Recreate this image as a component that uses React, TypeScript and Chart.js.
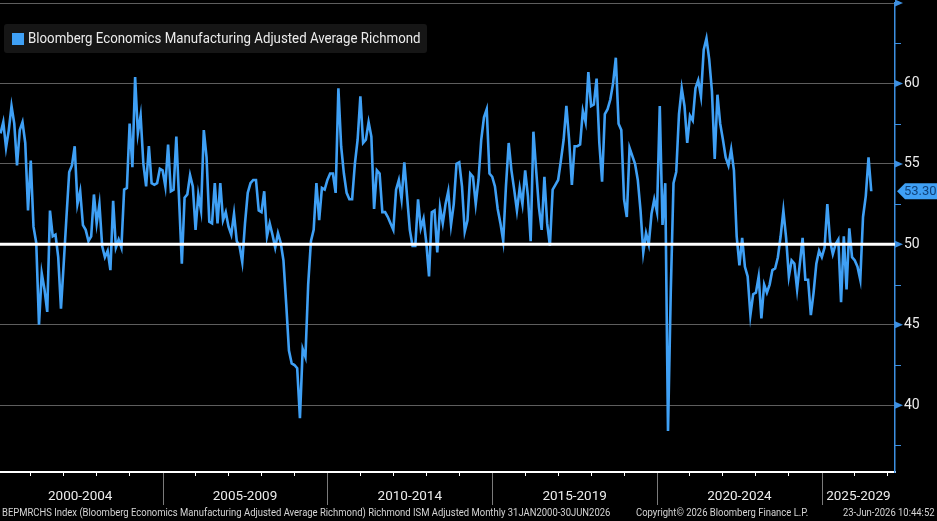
import React, { useEffect, useRef } from 'react';
import { Chart, registerables } from 'chart.js';

Chart.register(...registerables);

// ---- Data (monthly, Jan 2000 .. Jun 2026) ----
const v2000_2004 = [
  56.9, 57.6, 56.0, 57.1, 58.6, 57.5, 54.9, 57.1, 57.6, 56.3,
  52.1, 55.2, 51.1, 50.1, 45.0, 48.2, 47.2, 45.8, 52.1, 50.5,
  50.6, 49.2, 46.0, 48.8, 51.7, 54.5, 54.9, 56.1, 52.5, 53.3,
  51.2, 50.9, 50.2, 50.5, 53.1, 51.3, 52.5, 49.9, 49.2, 49.6,
  48.4, 52.7, 49.8, 50.3, 49.8, 53.4, 53.5, 57.5, 54.8, 60.4,
  56.9, 58.0, 55.0, 53.6, 56.1, 53.8, 53.7, 53.8, 54.7, 54.6,
];
const v2005_2009 = [
  53.6, 56.2, 53.3, 53.4, 56.7, 52.8, 48.8, 52.9, 53.1, 54.3,
  53.6, 50.9, 53.1, 52.1, 57.1, 55.4, 51.4, 51.3, 53.8, 51.3,
  53.8, 51.5, 52.0, 51.1, 50.6, 51.9, 50.2, 49.9, 48.9, 51.3,
  53.2, 53.8, 54.0, 54.0, 52.1, 52.0, 53.3, 50.5, 51.3, 50.6,
  49.8, 50.7, 50.1, 49.0, 46.3, 43.4, 42.6, 42.5, 42.3, 39.2,
  43.5, 43.0, 47.5, 50.2, 50.9, 53.8, 51.5, 53.5, 53.4, 54.0,
];
const v2010_2014 = [
  54.4, 54.4, 53.2, 59.7, 56.1, 54.4, 53.2, 52.8, 52.8, 55.0,
  56.5, 59.2, 56.3, 56.5, 57.6, 56.7, 52.2, 54.6, 54.4, 52.0,
  52.0, 51.7, 51.3, 50.9, 53.4, 54.0, 52.8, 55.1, 53.0, 50.9,
  49.9, 49.9, 52.8, 51.0, 51.6, 50.1, 48.0, 52.0, 52.1, 49.5,
  52.3, 51.3, 52.5, 53.3, 51.2, 52.5, 55.0, 55.1, 53.6, 50.8,
  51.5, 54.4, 54.2, 52.5, 54.0, 56.5, 57.9, 58.4, 54.4, 54.2,
];
const v2015_2019 = [
  53.6, 52.2, 51.3, 50.2, 53.6, 56.3, 54.6, 53.4, 52.1, 53.5,
  52.5, 54.6, 53.0, 50.2, 57.0, 54.6, 52.3, 50.9, 54.2, 51.3,
  49.9, 53.4, 53.7, 54.0, 55.2, 56.5, 58.6, 56.5, 53.7, 56.1,
  56.1, 56.2, 58.3, 57.6, 60.7, 58.6, 58.7, 60.3, 56.3, 53.9,
  58.1, 58.4, 59.0, 60.0, 61.6, 57.5, 57.1, 52.8, 51.7, 56.0,
  55.5, 55.0, 54.0, 52.1, 49.5, 50.7, 50.0, 51.9, 52.8, 52.0,
];
const v2020_2024 = [
  58.6, 51.2, 53.8, 38.4, 47.0, 53.8, 54.5, 58.1, 59.7, 58.6,
  56.3, 58.0, 57.7, 59.7, 60.2, 59.2, 62.1, 62.8, 61.5, 59.5,
  55.3, 59.3, 57.5, 56.5, 55.4, 54.9, 55.9, 54.6, 50.5, 48.7,
  50.4, 48.6, 48.0, 45.6, 46.9, 47.0, 48.0, 45.4, 47.5, 47.0,
  47.5, 48.4, 48.5, 49.2, 50.5, 52.1, 50.4, 48.0, 49.0, 48.8,
  47.2, 48.8, 50.4, 47.8, 47.8, 45.6, 47.0, 48.8, 49.6, 49.2,
];
const v2025_2026 = [
  49.8, 52.5, 50.2, 49.4, 50.0, 50.3, 46.4, 50.5, 47.2, 51.0,
  49.2, 49.0, 48.6, 47.8, 51.7, 53.0, 55.4, 53.3,
];

const periodLabels = ['2000-2004', '2005-2009', '2010-2014', '2015-2019', '2020-2024', '2025-2029'];
const periodStarts = [2000, 2005, 2010, 2015, 2020, 2025];
const yTickValues = [40, 45, 50, 55, 60];
const seriesName = 'Bloomberg Economics Manufacturing Adjusted Average Richmond';
const lastValueText = '53.30';
const footerLeft = 'BEPMRCHS Index (Bloomberg Economics Manufacturing Adjusted Average Richmond) Richmond ISM Adjusted Monthly 31JAN2000-30JUN2026';
const footerMid = 'Copyright\u00A9 2026 Bloomberg Finance L.P.';
const footerRight = '23-Jun-2026 10:44:52';

const values = [...v2000_2004, ...v2005_2009, ...v2010_2014, ...v2015_2019, ...v2020_2024, ...v2025_2026];

const X_MIN = 2000.067;
const X_MAX = 2027.22;
const Y_MIN = 35.85;
const Y_MAX = 65;
const LINE_COLOR = '#3fa0f5';
const AXIS_BLUE = '#3d8fe0';
const FONT = "Roboto, 'Liberation Sans', sans-serif";

const labelPositions = periodStarts.map((s, i) => (i < periodStarts.length - 1 ? s + 2.5 : (s + X_MAX) / 2));

const decorPlugin = {
  id: 'bbgDecor',
  afterDatasetsDraw(chart: any) {
    const { ctx, chartArea } = chart;
    const ys = chart.scales.y;
    const y50 = ys.getPixelForValue(50);
    ctx.save();
    ctx.strokeStyle = '#ffffff';
    ctx.lineWidth = 3;
    ctx.beginPath();
    ctx.moveTo(chartArea.left, y50);
    ctx.lineTo(chartArea.right, y50);
    ctx.stroke();
    ctx.restore();
  },
  afterDraw(chart: any) {
    const { ctx, chartArea } = chart;
    const xs = chart.scales.x;
    const ys = chart.scales.y;
    ctx.save();
    // 5-year separators below the axis
    ctx.strokeStyle = '#7a7a7a';
    ctx.lineWidth = 1;
    periodStarts.forEach((s) => {
      const px = Math.round(xs.getPixelForValue(s)) + 0.5;
      if (px < chartArea.left || px > chartArea.right) return;
      ctx.beginPath();
      ctx.moveTo(px, chartArea.bottom + 1);
      ctx.lineTo(px, chartArea.bottom + 33);
      ctx.stroke();
    });
    // right axis arrow ticks
    ctx.fillStyle = AXIS_BLUE;
    [...yTickValues, 65].forEach((v) => {
      const py = ys.getPixelForValue(v);
      ctx.beginPath();
      ctx.moveTo(chartArea.right, py - 3.5);
      ctx.lineTo(chartArea.right + 8, py);
      ctx.lineTo(chartArea.right, py + 3.5);
      ctx.closePath();
      ctx.fill();
    });
    // minor ticks
    ctx.strokeStyle = AXIS_BLUE;
    ctx.lineWidth = 1;
    for (let v = 37.5; v < 65; v += 5) {
      const py = Math.round(ys.getPixelForValue(v)) + 0.5;
      ctx.beginPath();
      ctx.moveTo(chartArea.right, py);
      ctx.lineTo(chartArea.right + 6, py);
      ctx.stroke();
    }
    // last value tag
    const last = values[values.length - 1];
    const ty = ys.getPixelForValue(last);
    const x0 = chartArea.right + 2;
    ctx.fillStyle = LINE_COLOR;
    ctx.beginPath();
    ctx.moveTo(x0, ty);
    ctx.lineTo(x0 + 8, ty - 8);
    ctx.lineTo(chart.width, ty - 8);
    ctx.lineTo(chart.width, ty + 8);
    ctx.lineTo(x0 + 8, ty + 8);
    ctx.closePath();
    ctx.fill();
    ctx.fillStyle = '#10427a';
    ctx.font = `13px ${FONT}`;
    ctx.textAlign = 'left';
    ctx.textBaseline = 'middle';
    ctx.fillText(lastValueText, x0 + 7, ty + 1);
    ctx.restore();
  },
};

const condensed = (scale: number, origin: string): React.CSSProperties => ({
  transform: `scaleX(${scale})`,
  transformOrigin: origin,
  display: 'inline-block',
});

export default function App() {
  const ref = useRef<HTMLCanvasElement>(null);

  useEffect(() => {
    const points = values.map((y, k) => ({ x: 2000 + (k + 1) / 12, y }));
    const chart = new Chart(ref.current as HTMLCanvasElement, {
      type: 'line',
      data: {
        datasets: [
          {
            label: seriesName,
            data: points,
            borderColor: LINE_COLOR,
            borderWidth: 2.6,
            pointRadius: 0,
            tension: 0,
            fill: false,
          },
        ],
      },
      options: {
        animation: false,
        responsive: false,
        devicePixelRatio: 1,
        parsing: false as any,
        layout: { padding: { top: 3, left: 0, right: 0, bottom: 0 } },
        plugins: { legend: { display: false }, tooltip: { enabled: false } },
        scales: {
          x: {
            type: 'linear',
            min: X_MIN,
            max: X_MAX,
            afterBuildTicks: (s: any) => {
              const t: any[] = [];
              for (let yr = 2001; yr <= 2027; yr++) t.push({ value: yr });
              labelPositions.forEach((p) => t.push({ value: p }));
              t.sort((a, b) => a.value - b.value);
              s.ticks = t;
            },
            afterFit: (s: any) => {
              s.height = 49;
              s.paddingLeft = 0;
              s.paddingRight = 0;
            },
            ticks: {
              autoSkip: false,
              maxRotation: 0,
              minRotation: 0,
              padding: 13,
              color: '#ececec',
              font: { family: FONT, size: 13.5 },
              callback: (value: any) => {
                const i = labelPositions.findIndex((p) => Math.abs(p - Number(value)) < 1e-6);
                return i >= 0 ? periodLabels[i] : '';
              },
            },
            grid: {
              drawOnChartArea: false,
              drawTicks: true,
              tickLength: 4,
              tickWidth: 1,
              tickColor: (c: any) => {
                const v = c.tick ? c.tick.value : 0;
                return Number.isInteger(v) && v % 5 !== 0 ? '#ffffff' : 'rgba(0,0,0,0)';
              },
            },
            border: { display: true, color: '#ffffff', width: 2 },
          },
          y: {
            type: 'linear',
            position: 'right',
            min: Y_MIN,
            max: Y_MAX,
            afterBuildTicks: (s: any) => {
              const t: any[] = [];
              for (let v = 37.5; v <= 65.001; v += 2.5) t.push({ value: v });
              s.ticks = t;
            },
            afterFit: (s: any) => {
              s.width = 42;
              s.paddingTop = 0;
              s.paddingBottom = 0;
            },
            ticks: {
              autoSkip: false,
              padding: 9,
              color: '#ececec',
              font: { family: FONT, size: 14 },
              callback: (value: any) => (yTickValues.includes(Number(value)) ? String(value) : ''),
            },
            grid: {
              drawTicks: false,
              color: (c: any) => {
                const v = c.tick ? c.tick.value : 0;
                if (v === 50) return 'rgba(0,0,0,0)';
                return v % 5 === 0 ? '#5e5e5e' : 'rgba(0,0,0,0)';
              },
              lineWidth: 1,
            },
            border: { display: true, color: AXIS_BLUE, width: 1.5 },
          },
        },
      },
      plugins: [decorPlugin],
    } as any);
    return () => chart.destroy();
  }, []);

  return (
    <div
      style={{
        position: 'fixed',
        left: 0,
        top: 0,
        width: 937,
        height: 521,
        background: '#000',
        overflow: 'hidden',
        fontFamily: FONT,
      }}
    >
      <canvas
        ref={ref}
        width={937}
        height={521}
        style={{ position: 'absolute', left: 0, top: 0, width: 937, height: 521 }}
      />
      <div
        style={{
          position: 'absolute',
          left: 4,
          top: 24,
          width: 423,
          height: 29,
          background: '#161616',
          borderRadius: 3,
        }}
      >
        <div
          style={{ position: 'absolute', left: 8, top: 9, width: 12, height: 12, background: LINE_COLOR }}
        />
        <div
          style={{
            position: 'absolute',
            left: 24,
            top: 0,
            lineHeight: '30px',
            fontSize: 14.5,
            color: '#ececec',
            whiteSpace: 'nowrap',
          }}
        >
          <span style={condensed(0.915, 'left center')}>{seriesName}</span>
        </div>
      </div>
      <div
        style={{
          position: 'absolute',
          left: 0,
          top: 505,
          width: 937,
          height: 16,
          lineHeight: '16px',
          fontSize: 11,
          color: '#d4d4d4',
          whiteSpace: 'nowrap',
        }}
      >
        <span style={{ position: 'absolute', left: 2, ...condensed(0.86, 'left center') }}>{footerLeft}</span>
        <span style={{ position: 'absolute', left: 636, ...condensed(0.86, 'left center') }}>{footerMid}</span>
        <span style={{ position: 'absolute', right: 2, ...condensed(0.86, 'right center') }}>{footerRight}</span>
      </div>
    </div>
  );
}
